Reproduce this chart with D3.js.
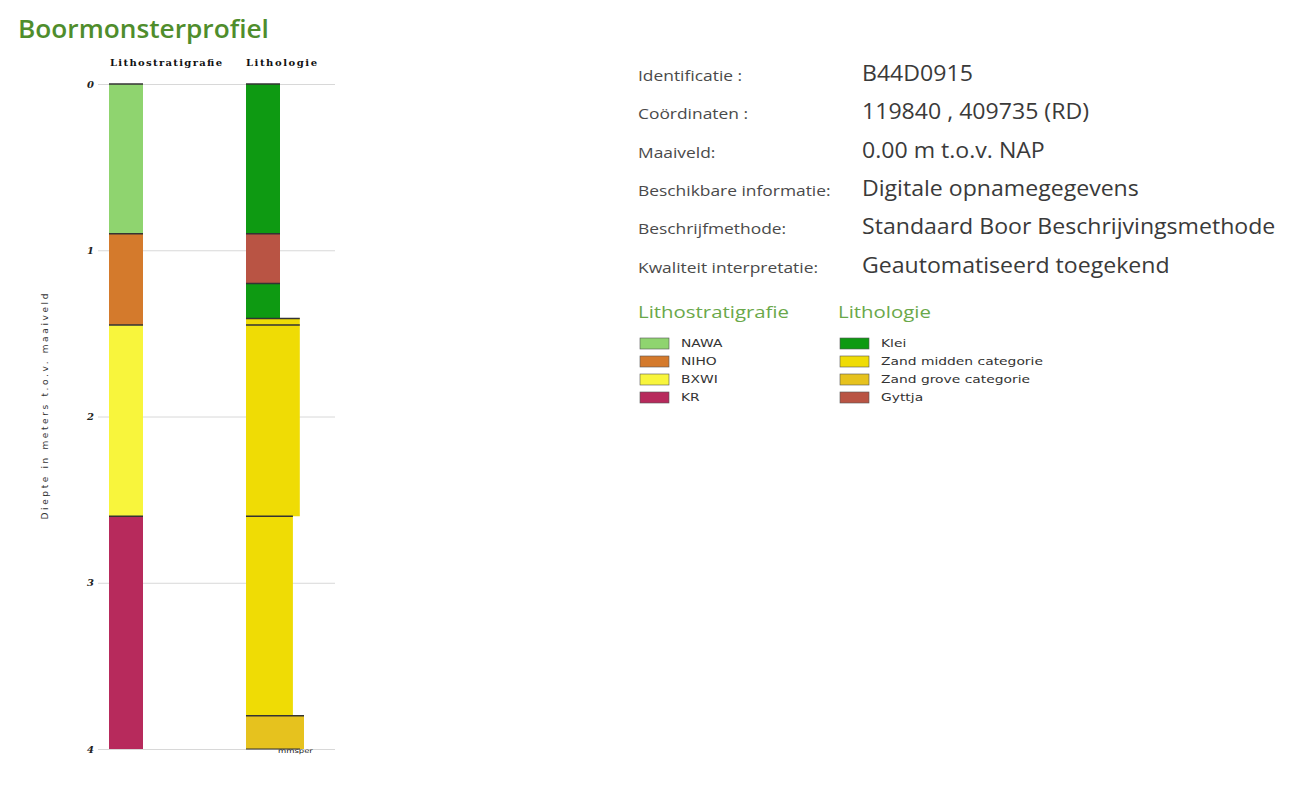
<!DOCTYPE html>
<html>
<head>
<meta charset="utf-8">
<script src="https://cdn.jsdelivr.net/npm/d3@7/dist/d3.min.js"></script>
<style>
  html, body { margin: 0; padding: 0; background: #fff; }
  svg { display: block; }
</style>
</head>
<body>
<svg id="chart" width="1291" height="789"></svg>
<script>
// Borehole B44D0915 — layer tops/bottoms in metres below surface
const depthTicks = [0, 1, 2, 3, 4];

const stratTop    = [0.00, 0.90, 1.45, 2.60];
const stratBottom = [0.90, 1.45, 2.60, 4.00];
const stratUnit   = ["NAWA", "NIHO", "BXWI", "KR"];

const lithoTop    = [0.00, 0.90, 1.20, 1.41, 1.45, 2.60, 3.80];
const lithoBottom = [0.90, 1.20, 1.41, 1.45, 2.60, 3.80, 4.00];
const lithoClass  = ["Klei", "Gyttja", "Klei", "Zand midden categorie", "Zand midden categorie", "Zand midden categorie", "Zand grove categorie"];
const lithoGrain  = [0, 0, 0, 330, 330, 215, 400]; // median grain size, µm

const stratNames = ["NAWA", "NIHO", "BXWI", "KR"];
const stratColors = ["#8fd46f", "#d47a2c", "#f8f53c", "#b72a5c"];
const lithoNames = ["Klei", "Zand midden categorie", "Zand grove categorie", "Gyttja"];
const lithoColors = ["#0e9a12", "#efdc05", "#e6c21e", "#b95444"];

const infoLabels = ["Identificatie :", "Coördinaten :", "Maaiveld:", "Beschikbare informatie:", "Beschrijfmethode:", "Kwaliteit interpretatie:"];
const infoValues = ["B44D0915", "119840 , 409735 (RD)", "0.00 m t.o.v. NAP", "Digitale opnamegegevens", "Standaard Boor Beschrijvingsmethode", "Geautomatiseerd toegekend"];

const svg = d3.select("#chart");
const font = "'Open Sans', 'Noto Sans', sans-serif";

// Text drawn with a horizontal stretch (the page font is wider than Open Sans)
function wideText(parent, x, y, sx, txt) {
  return parent.append("text")
    .attr("transform", `translate(${x},${y}) scale(${sx},1)`)
    .text(txt);
}

// Title
wideText(svg, 18, 38, 1.05, "Boormonsterprofiel")
  .attr("font-family", font).attr("font-size", 25).attr("font-weight", 600)
  .attr("fill", "#4f8d2c");

// Depth scale
const y = d3.scaleLinear().domain([0, 4]).range([84, 749]);
const stratColor = d3.scaleOrdinal().domain(stratNames).range(stratColors);
const lithoColor = d3.scaleOrdinal().domain(lithoNames).range(lithoColors);
const xStrat = d3.scaleBand().domain(["col"]).range([109, 143]);
const xGrain = d3.scaleLinear().domain([0, 400]).range([280, 304]);
const lithoLeft = 246;

// Grid lines + tick labels
const axis = d3.axisLeft(y).tickValues(depthTicks).tickFormat(d3.format("d"))
  .tickSize(-237).tickPadding(4);
const gAxis = svg.append("g").attr("transform", "translate(98,0)").call(axis);
gAxis.select(".domain").remove();
gAxis.selectAll(".tick line").attr("stroke", "#d8d8d8").attr("stroke-width", 1);
gAxis.selectAll(".tick text")
  .attr("font-family", "'DejaVu Serif', serif").attr("font-size", 10)
  .attr("font-weight", "bold").attr("font-style", "italic").attr("fill", "#222");

// Axis title
svg.append("text")
  .attr("transform", `translate(48,${y(1.94)}) rotate(-90)`)
  .attr("text-anchor", "middle")
  .attr("font-family", "'DejaVu Sans', sans-serif").attr("font-size", 9)
  .attr("textLength", 226).attr("lengthAdjust", "spacing")
  .attr("fill", "#333").text("Diepte in meters t.o.v. maaiveld");

// Column headers
svg.append("text").attr("x", 110).attr("y", 66)
  .attr("font-family", "'DejaVu Serif', serif").attr("font-size", 10)
  .attr("font-weight", "bold").attr("fill", "#111")
  .attr("textLength", 112).text("Lithostratigrafie");
svg.append("text").attr("x", 246).attr("y", 66)
  .attr("font-family", "'DejaVu Serif', serif").attr("font-size", 10)
  .attr("font-weight", "bold").attr("fill", "#111")
  .attr("textLength", 71).text("Lithologie");

// Lithostratigraphy column
const strat = stratUnit.map((u, i) => ({ unit: u, top: stratTop[i], bottom: stratBottom[i] }));
svg.append("g").selectAll("rect").data(strat).join("rect")
  .attr("x", xStrat("col")).attr("width", xStrat.bandwidth())
  .attr("y", d => y(d.top)).attr("height", d => y(d.bottom) - y(d.top))
  .attr("fill", d => stratColor(d.unit));
svg.append("g").selectAll("line").data(strat).join("line")
  .attr("x1", xStrat("col")).attr("x2", xStrat("col") + xStrat.bandwidth())
  .attr("y1", d => y(d.top)).attr("y2", d => y(d.top))
  .attr("stroke", "#333").attr("stroke-width", 1.5);

// Lithology column (width follows grain size)
const litho = lithoClass.map((c, i) => ({ cls: c, top: lithoTop[i], bottom: lithoBottom[i], grain: lithoGrain[i] }));
svg.append("g").selectAll("rect").data(litho).join("rect")
  .attr("x", lithoLeft).attr("width", d => xGrain(d.grain) - lithoLeft)
  .attr("y", d => y(d.top)).attr("height", d => y(d.bottom) - y(d.top))
  .attr("fill", d => lithoColor(d.cls));
svg.append("g").selectAll("line").data(litho).join("line")
  .attr("x1", lithoLeft).attr("x2", d => xGrain(d.grain))
  .attr("y1", d => y(d.top)).attr("y2", d => y(d.top))
  .attr("stroke", "#333").attr("stroke-width", 1.5);
svg.append("line")
  .attr("x1", lithoLeft).attr("x2", 300)
  .attr("y1", y(4)).attr("y2", y(4))
  .attr("stroke", "#333").attr("stroke-width", 1.2);
wideText(svg, 278, 753, 1.3, "mmsper")
  .attr("font-family", "'DejaVu Sans', sans-serif").attr("font-size", 6.5)
  .attr("fill", "#222");

// Info table
const info = svg.append("g");
infoLabels.forEach((l, i) => {
  const yy = 81 + i * 38.3;
  wideText(info, 638, yy, 1.2, l)
    .attr("font-family", font).attr("font-size", 14.5).attr("fill", "#4a4a4a");
  wideText(info, 862, yy, 1.1, infoValues[i])
    .attr("font-family", font).attr("font-size", 21).attr("fill", "#3a3a3a");
});

// Legends
function legend(x, title, names, scale) {
  const g = svg.append("g");
  wideText(g, x, 318, 1.2, title)
    .attr("font-family", font).attr("font-size", 17).attr("fill", "#6aa84a");
  names.forEach((n, i) => {
    const yy = 338 + i * 18;
    g.append("rect").attr("x", x + 2).attr("y", yy).attr("width", 29).attr("height", 11)
      .attr("fill", scale(n)).attr("stroke", "#555").attr("stroke-width", 0.6);
    wideText(g, x + 43, yy + 9, 1.26, n)
      .attr("font-family", "'DejaVu Sans', sans-serif").attr("font-size", 11)
      .attr("fill", "#333");
  });
}
legend(638, "Lithostratigrafie", stratNames, stratColor);
legend(838, "Lithologie", lithoNames, lithoColor);
</script>
</body>
</html>
